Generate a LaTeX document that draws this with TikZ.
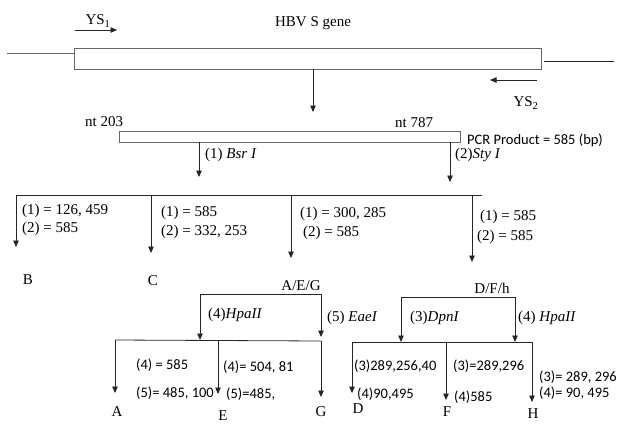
\documentclass[tikz,border=0pt]{standalone}
\usepackage{fontspec}
\setmainfont{Liberation Serif}
\newfontfamily\carl{Carlito}
\usetikzlibrary{arrows.meta}
\begin{document}
\begin{tikzpicture}[x=1pt,y=-1pt,
  ln/.style={draw=black!85, line width=0.8pt},
  arr/.style={ln, -{Triangle[length=6.5pt,width=5.5pt]}},
  box/.style={draw=black!60, line width=0.9pt, inner sep=0pt},
  st/.style={font=\fontsize{15}{18}\selectfont, inner sep=0pt, anchor=west},
  ss/.style={font=\carl\fontsize{14.5}{17}\selectfont, inner sep=0pt, anchor=west},
  lab/.style={font=\fontsize{15}{18}\selectfont, inner sep=0pt}
]
\useasboundingbox (0,0) rectangle (619,429);

% gene
\node[box, minimum width=467pt, minimum height=21pt] (gene) at (307.5,58.5) {};
\coordinate (l0) at (7,53);
\draw[ln, draw=black!60] (l0) -- (l0 -| gene.west);
\coordinate (r0) at (614,61);
\draw[ln] ([xshift=3pt]gene.east |- r0) -- (r0);
\coordinate (ys1a) at (75,30); \coordinate (ys1b) at (117,30);
\draw[arr] (ys1a) -- (ys1b);
\node[lab] (ys1) at (98,21) {YS\textsubscript{1}};
\coordinate (ys2a) at (537,80); \coordinate (ys2b) at (490,80);
\draw[arr] (ys2a) -- (ys2b);
\node[lab] (ys2) at (526,103) {YS\textsubscript{2}};
\node[lab] (hbv) at (313,23) {HBV S gene};
\coordinate (g1) at (313,112);
\draw[arr] (gene.south -| g1) -- (g1);

% PCR product
\node[box, minimum width=341pt, minimum height=11pt] (pcr) at (289.5,136.5) {};
\node[st] (nt1) at (85,122) {nt 203};
\node[st] (nt2) at (395,123) {nt 787};
\node[ss] (pcrt) at (467,140) {PCR Product = 585 (bp)};
\coordinate (bsr) at (199,177);
\draw[arr] (pcr.south -| bsr) -- (bsr);
\node[st] (bsrt) at (205,155) {(1) \textit{Bsr I}};
\coordinate (sty) at (450,182);
\draw[arr] (pcr.south -| sty) -- (sty);
\node[st] (styt) at (455,155) {(2)\textit{Sty I}};

% first split
\coordinate (h1a) at (16,195); \coordinate (h1b) at (482,195);
\draw[ln] (h1a) -- (h1b);
\coordinate (tB) at (16,247);
\draw[arr] (h1a) -- (tB);
\coordinate (tC) at (151,253);
\draw[arr] (tC |- h1a) -- (tC);
\coordinate (tAEG) at (291,258);
\draw[arr] (tAEG |- h1a) -- (tAEG);
\coordinate (tDFH) at (472,262);
\draw[arr] (tDFH |- h1a) -- (tDFH);

\node[st] (b1t) at (22,211) {(1) = 126, 459};
\node[st] (b2t) at (22,229) {(2) = 585};
\node[st] (c1t) at (161,213) {(1) = 585};
\node[st] (c2t) at (161,232) {(2) = 332, 253};
\node[st] (a1t1) at (300,214) {(1) = 300, 285};
\node[st] (a1t2) at (303,233) {(2) = 585};
\node[st] (d1t1) at (480,217) {(1) = 585};
\node[st] (d1t2) at (477,237) {(2) = 585};

\node[lab] (B) at (28,280) {B};
\node[lab] (C) at (153,281) {C};
\node[lab] (AEG) at (301,286) {A/E/G};
\node[lab] (DFH) at (492,288) {D/F/h};

% A/E/G branch
\coordinate (a1) at (200,294); \coordinate (a2) at (321,294);
\draw[ln] (a1) -- (a2);
\coordinate (a1e) at (200,340);
\draw[arr] (a1) -- (a1e);
\coordinate (a2e) at (321,337);
\draw[arr] (a2) -- (a2e);
\node[st] (hpa1) at (208,315) {(4)\textit{HpaII}};
\node[st] (eae) at (327,318) {(5) \textit{EaeI}};

\coordinate (e1) at (115,340); \coordinate (e2) at (321,341);
\draw[ln] (e1) -- (e2);
\coordinate (tA) at (115,393);
\draw[arr] (e1) -- (tA);
\coordinate (tE) at (218,394);
\draw[arr] (tE |- e1) -- (tE);
\coordinate (tG) at (321,397);
\draw[arr] (e2) -- (tG);

\node[ss] (at1) at (136,365) {(4) = 585};
\node[ss] (at2) at (136,393) {(5)= 485, 100};
\node[ss] (et1) at (223,367) {(4)= 504, 81};
\node[ss] (et2) at (226,394) {(5)=485,};
\node[lab] (A) at (117,412) {A};
\node[lab] (E) at (223,416) {E};
\node[lab] (G) at (321,412) {G};

% D/F/H branch
\coordinate (d1) at (401,297); \coordinate (d2) at (515,297);
\draw[ln] (d1) -- (d2);
\coordinate (d1e) at (401,342);
\draw[arr] (d1) -- (d1e);
\coordinate (d2e) at (515,342);
\draw[arr] (d2) -- (d2e);
\node[st] (dpn) at (410,318) {(3)\textit{DpnI}};
\node[st] (hpa2) at (518,318) {(4) \textit{HpaII}};

\coordinate (f1) at (352,342); \coordinate (f2) at (532,342);
\draw[ln] (f1) -- (f2);
\coordinate (tD) at (352,393);
\draw[arr] (f1) -- (tD);
\coordinate (tF) at (446,400);
\draw[arr] (tF |- f1) -- (tF);
\coordinate (tH) at (532,402);
\draw[arr] (f2) -- (tH);

\node[ss] (dt1) at (354,366) {(3)289,256,40};
\node[ss] (dt2) at (357,394) {(4)90,495};
\node[ss] (ft1) at (453,366) {(3)=289,296};
\node[ss] (ft2) at (454,397) {(4)585};
\node[ss] (ht1) at (539,377) {(3)= 289, 296};
\node[ss] (ht2) at (539,393) {(4)= 90, 495};
\node[lab] (D) at (358,409) {D};
\node[lab] (F) at (447,412) {F};
\node[lab] (H) at (533,414) {H};
\end{tikzpicture}
\end{document}
